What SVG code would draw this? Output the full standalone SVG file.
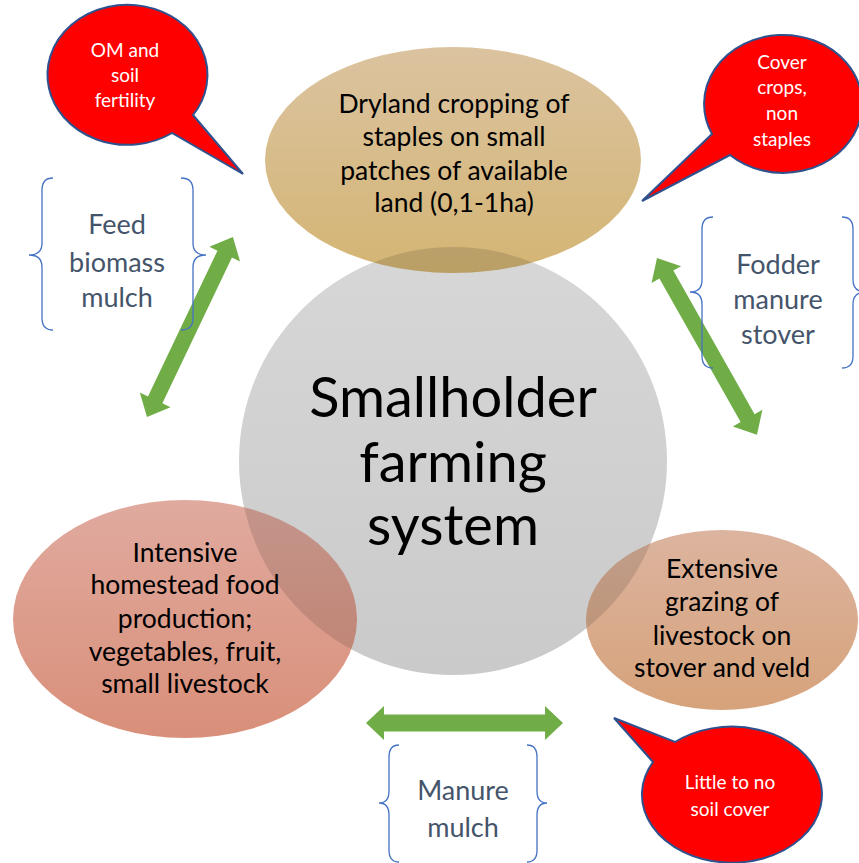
<svg xmlns="http://www.w3.org/2000/svg" width="859" height="863" viewBox="0 0 859 863">
<defs>
<style>
.t{font-family:Lato,"Open Sans","Liberation Sans",sans-serif;text-anchor:middle;fill:#000}
.lbl{font-family:Lato,"Open Sans","Liberation Sans",sans-serif;text-anchor:middle;fill:#44546a;font-size:27px}
.bt{font-family:Lato,"Open Sans","Liberation Sans",sans-serif;text-anchor:middle;fill:#fff;font-size:19px}
.brace{fill:none;stroke:#4472c4;stroke-width:1.3}
.bub{fill:#ff0000;stroke:#2f528f;stroke-width:2;stroke-linejoin:miter}
.arr{fill:#70ad47}
.shade{fill:#000;fill-opacity:0.12}
</style>
<linearGradient id="gC" x1="0" y1="0" x2="0" y2="1"><stop offset="0" stop-color="#d7d7d7"/><stop offset="1" stop-color="#cacaca"/></linearGradient>
<linearGradient id="gT" x1="0" y1="0" x2="0" y2="1"><stop offset="0" stop-color="#dbc3a0"/><stop offset="1" stop-color="#d4b574"/></linearGradient>
<linearGradient id="gL" x1="0" y1="0" x2="0" y2="1"><stop offset="0" stop-color="#e0aa9f"/><stop offset="1" stop-color="#d98f79"/></linearGradient>
<linearGradient id="gR" x1="0" y1="0" x2="0" y2="1"><stop offset="0" stop-color="#dcb49f"/><stop offset="1" stop-color="#d6a27a"/></linearGradient>
<clipPath id="cT"><ellipse cx="453" cy="160" rx="188" ry="113"/></clipPath>
<clipPath id="cL"><ellipse cx="185" cy="619" rx="172" ry="119"/></clipPath>
<clipPath id="cR"><ellipse cx="722" cy="620" rx="136" ry="90"/></clipPath>
</defs>
<rect width="859" height="863" fill="#fff"/>

<g id="center">
<circle cx="453" cy="461" r="214" fill="url(#gC)"/>
<text class="t" font-size="56"><tspan x="453" y="417">Smallholder</tspan><tspan x="453" y="482">farming</tspan><tspan x="453" y="545">system</tspan></text>
</g>

<g id="dryland">
<ellipse cx="453" cy="160" rx="188" ry="113" fill="url(#gT)"/>
<circle cx="453" cy="461" r="214" class="shade" clip-path="url(#cT)"/>
<text class="t" font-size="26.5"><tspan x="454" y="113">Dryland cropping of</tspan><tspan x="454" y="146">staples on small</tspan><tspan x="454" y="180">patches of available</tspan><tspan x="454" y="212">land (0,1-1ha)</tspan></text>
</g>

<g id="intensive">
<ellipse cx="185" cy="619" rx="172" ry="119" fill="url(#gL)"/>
<circle cx="453" cy="461" r="214" class="shade" clip-path="url(#cL)"/>
<text class="t" font-size="26.5"><tspan x="185" y="562">Intensive</tspan><tspan x="185" y="594">homestead food</tspan><tspan x="185" y="628">production;</tspan><tspan x="185" y="661">vegetables, fruit,</tspan><tspan x="185" y="693">small livestock</tspan></text>
</g>

<g id="extensive">
<ellipse cx="722" cy="620" rx="136" ry="90" fill="url(#gR)"/>
<circle cx="453" cy="461" r="214" class="shade" clip-path="url(#cR)"/>
<text class="t" font-size="26.5"><tspan x="722" y="578">Extensive</tspan><tspan x="722" y="611">grazing of</tspan><tspan x="722" y="645">livestock on</tspan><tspan x="722" y="677">stover and veld</tspan></text>
</g>

<g id="connectors">
<path class="arr" transform="translate(147,417) rotate(-64.5)" d="M0,0 L19,-17 L19,-8 L180.5,-8 L180.5,-17 L199.5,0 L180.5,17 L180.5,8 L19,8 L19,17 Z"/>
<path class="arr" transform="translate(657,258) rotate(60.5)" d="M0,0 L19,-17 L19,-8 L184,-8 L184,-17 L203,0 L184,17 L184,8 L19,8 L19,17 Z"/>
<path class="arr" transform="translate(366,723)" d="M0,0 L18,-17 L18,-8.5 L179,-8.5 L179,-17 L197,0 L179,17 L179,8.5 L18,8.5 L18,17 Z"/>
</g>

<g id="label-feed">
<path class="brace" d="M53,178 Q42,178 42,190 L42,243 Q42,255 29,255 Q42,255 42,267 L42,318 Q42,330 53,330"/>
<path class="brace" d="M181,178 Q193,178 193,190 L193,243 Q193,255 206,255 Q193,255 193,267 L193,318 Q193,330 181,330"/>
<text class="lbl"><tspan x="117" y="234">Feed</tspan><tspan x="117" y="272">biomass</tspan><tspan x="117" y="307">mulch</tspan></text>
</g>

<g id="label-fodder">
<path class="brace" d="M713,217 Q702,217 702,229 L702,280 Q702,292 690,292 Q702,292 702,304 L702,356 Q702,368 713,368"/>
<path class="brace" d="M842,217 Q853,217 853,229 L853,280 Q853,292 866,292 Q853,292 853,304 L853,356 Q853,368 842,368"/>
<text class="lbl"><tspan x="778" y="274">Fodder</tspan><tspan x="778" y="309">manure</tspan><tspan x="778" y="344">stover</tspan></text>
</g>

<g id="label-manure">
<path class="brace" d="M399,745 Q389,745 389,757 L389,791 Q389,803 379,803 Q389,803 389,815 L389,850 Q389,862 399,862"/>
<path class="brace" d="M527,745 Q537,745 537,757 L537,791 Q537,803 547,803 Q537,803 537,815 L537,850 Q537,862 527,862"/>
<text class="lbl"><tspan x="463" y="800">Manure</tspan><tspan x="463" y="837">mulch</tspan></text>
</g>

<g id="bubble-om">
<path class="bub" d="M193,115 L243,174 L172,133 A80,70 0 1 1 193,115 Z"/>
<text class="bt"><tspan x="125" y="57">OM and</tspan><tspan x="125" y="82">soil</tspan><tspan x="125" y="107">fertility</tspan></text>
</g>

<g id="bubble-cover">
<path class="bub" d="M712,134 L642,201 L730,155 A79,69 0 1 0 712,134 Z"/>
<text class="bt"><tspan x="782" y="69">Cover</tspan><tspan x="782" y="94">crops,</tspan><tspan x="782" y="120">non</tspan><tspan x="782" y="146">staples</tspan></text>
</g>

<g id="bubble-little">
<path class="bub" d="M653,762 L614,718 L675,742 A90,68 0 1 1 653,762 Z"/>
<text class="bt"><tspan x="730" y="789">Little to no</tspan><tspan x="730" y="816">soil cover</tspan></text>
</g>
</svg>
